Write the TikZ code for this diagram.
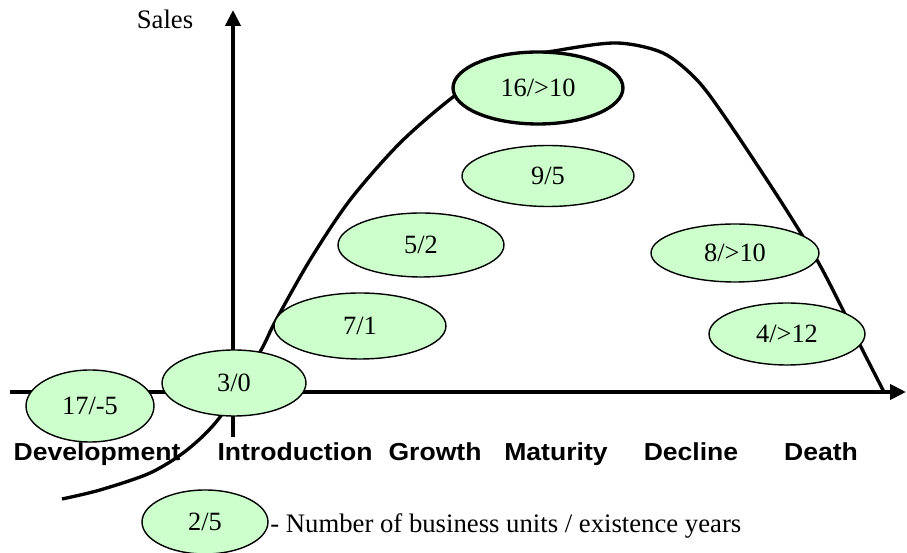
\documentclass[tikz,border=0pt]{standalone}
\usepackage{fontspec}
\setmainfont{Liberation Serif}
\newfontfamily\stagefont[FakeStretch=1.08]{Liberation Sans}
\usetikzlibrary{shapes.geometric,arrows.meta}
\definecolor{unitgreen}{HTML}{CCFFCC}

\begin{document}
\begin{tikzpicture}[
    x=0.02cm, y=-0.02cm,
    unit/.style={ellipse, draw, fill=unitgreen, line width=0.8pt, inner sep=0pt,
        minimum height=1.32cm, font=\fontsize{15}{17}\selectfont},
    stage/.style={anchor=base, inner sep=0pt, font=\stagefont\bfseries\fontsize{14}{16}\selectfont},
    axis/.style={line width=2.5pt, -{Triangle[length=0.32cm, width=0.3cm]}},
    lifecurve/.style={line width=1.9pt}
]
\useasboundingbox (0,0) rectangle (907,553);

% Axes
\coordinate (ybottom) at (233,437);
\coordinate (ytop) at (233,10);
\coordinate (xleft) at (10,392);
\coordinate (xright) at (906,392);
\draw[axis] (ybottom) -- (ytop);
\draw[axis] (xleft) -- (xright);
\node[anchor=base, inner sep=0pt, font=\fontsize{15.2}{17}\selectfont] (sales) at (165,29) {Sales};

% Life curve
\draw[lifecurve] plot[smooth] coordinates {
    (62,499) (100,490) (150,473) (187,450) (220,417) (260,352) (275,322)
    (310,260) (350,200) (400,143) (453,97) (505,62) (560,50) (617,43)
    (663,53) (697,80) (727,120) (780,200) (817,260) (843,310) (860,345) (884,392)};

% Business units
\node[unit, minimum width=2.56cm, minimum height=1.44cm] (development unit) at (90,406) {17/-5};
\node[unit, minimum width=2.88cm] (introduction unit) at (234,383) {3/0};
\node[unit, minimum width=3.44cm] (growth low) at (360,326) {7/1};
\node[unit, minimum width=3.32cm, minimum height=1.28cm] (growth high) at (421,245) {5/2};
\node[unit, minimum width=3.4cm, minimum height=1.44cm, line width=1.9pt] (maturity top) at (538,88) {16/>10};
\node[unit, minimum width=3.44cm, minimum height=1.22cm] (maturity low) at (548,176) {9/5};
\node[unit, minimum width=3.36cm, minimum height=1.16cm] (decline unit) at (735,253) {8/>10};
\node[unit, minimum width=3.12cm, minimum height=1.24cm] (death unit) at (787,334) {4/>12};

% Stages
\node[stage] (development) at (97,461) {Development};
\node[stage] (introduction) at (295,461) {Introduction};
\node[stage] (growth) at (435,461) {Growth};
\node[stage] (maturity) at (556,461) {Maturity};
\node[stage] (decline) at (691,461) {Decline};
\node[stage] (death) at (821,461) {Death};

% Legend
\node[unit, minimum width=2.52cm, minimum height=1.28cm] (legend unit) at (205,522) {2/5};
\node[anchor=base west, inner sep=0pt, font=\fontsize{15.2}{17}\selectfont] (legend text) at (270,533)
    {- Number of business units / existence years};

\end{tikzpicture}
\end{document}
